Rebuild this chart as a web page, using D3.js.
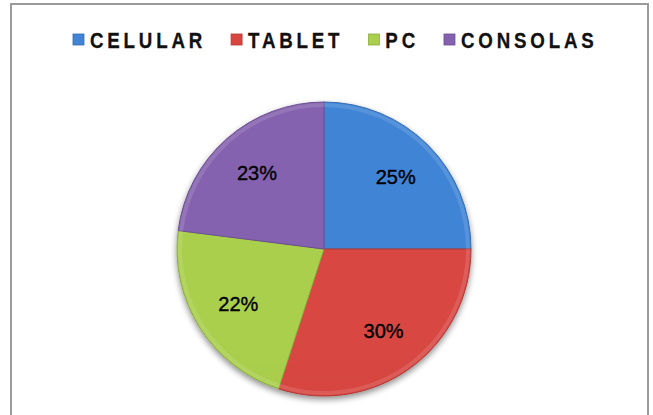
<!DOCTYPE html>
<html>
<head>
<meta charset="utf-8">
<script src="https://cdn.jsdelivr.net/npm/d3@7"></script>
<style>
  html, body { margin: 0; padding: 0; background: #fff; }
  svg { display: block; }
</style>
</head>
<body>
<svg id="chart" width="653" height="415"></svg>
<script>
// chart data
const categories = ["CELULAR", "TABLET", "PC", "CONSOLAS"];
const shares = [25, 30, 22, 23];
const baseColors = ["#3e7ecd", "#cf433f", "#a3c64a", "#7f5ea8"];
const darkColors = ["#336cb3", "#b23835", "#88ab3d", "#6a4f91"];

const width = 653, height = 415;
const cx = 324, cy = 249, radius = 147;

const svg = d3.select("#chart");
const defs = svg.append("defs");

// soft shadow under the pie
const shadow = defs.append("filter").attr("id", "shadow")
    .attr("x", "-20%").attr("y", "-20%").attr("width", "140%").attr("height", "140%");
shadow.append("feGaussianBlur").attr("in", "SourceAlpha").attr("stdDeviation", 3).attr("result", "blur");
shadow.append("feOffset").attr("in", "blur").attr("dx", 0).attr("dy", 3).attr("result", "off");
shadow.append("feComponentTransfer").attr("in", "off").attr("result", "soft")
    .append("feFuncA").attr("type", "linear").attr("slope", 0.45);
const merge = shadow.append("feMerge");
merge.append("feMergeNode").attr("in", "soft");
merge.append("feMergeNode").attr("in", "SourceGraphic");

// vertical shading per slice colour
categories.forEach((c, i) => {
    const g = defs.append("linearGradient").attr("id", "grad" + i)
        .attr("gradientUnits", "userSpaceOnUse")
        .attr("x1", 0).attr("y1", cy - radius).attr("x2", 0).attr("y2", cy + radius);
    g.append("stop").attr("offset", "0%").attr("stop-color", d3.color(baseColors[i]).brighter(0.12));
    g.append("stop").attr("offset", "55%").attr("stop-color", baseColors[i]);
    g.append("stop").attr("offset", "100%").attr("stop-color", darkColors[i]);
});

// chart area frame (bottom runs off the picture)
svg.append("rect")
    .attr("x", 11).attr("y", 4)
    .attr("width", 637).attr("height", 430)
    .attr("fill", "none")
    .attr("stroke", "#9a9a9a")
    .attr("stroke-width", 2);

// legend - narrow, spaced capitals
const squeeze = 0.85;
const legend = svg.append("g").attr("class", "legend");
let lx = 73;
categories.forEach((c, i) => {
    const item = legend.append("g").attr("transform", `translate(${lx},0)`);
    item.append("rect")
        .attr("x", 0).attr("y", 34)
        .attr("width", 11).attr("height", 11)
        .attr("fill", `url(#grad${i})`)
        .attr("stroke", darkColors[i]).attr("stroke-width", 0.8);
    const t = item.append("text")
        .attr("transform", `translate(17,48) scale(${squeeze},1)`)
        .attr("font-family", "Liberation Sans, Arial, sans-serif")
        .attr("font-weight", "bold")
        .attr("font-size", 22)
        .attr("letter-spacing", 4.5)
        .attr("fill", "#111")
        .attr("stroke", "#111")
        .attr("stroke-width", 0.3)
        .text(c);
    lx += 17 + t.node().getComputedTextLength() * squeeze + 25;
});

// pie
const pie = d3.pie().sort(null).value(d => d)
    .startAngle(0).endAngle(2 * Math.PI);
const arcs = pie(shares);
const arc = d3.arc().innerRadius(0).outerRadius(radius);
const labelArc = d3.arc().innerRadius(radius * 0.69).outerRadius(radius * 0.69);

const g = svg.append("g").attr("transform", `translate(${cx},${cy})`);
const slices = g.append("g").attr("filter", "url(#shadow)");

slices.selectAll("path.slice")
    .data(arcs)
    .join("path")
    .attr("class", "slice")
    .attr("d", arc)
    .attr("fill", (d, i) => `url(#grad${i})`)
    .attr("stroke", (d, i) => darkColors[i])
    .attr("stroke-width", 1);

// light bevel rim along the outer edge
const rim = d3.arc().innerRadius(radius - 5).outerRadius(radius - 1);
g.append("g").selectAll("path")
    .data(arcs)
    .join("path")
    .attr("d", rim)
    .attr("fill", "#fff")
    .attr("opacity", 0.12);

g.append("g").selectAll("text")
    .data(arcs)
    .join("text")
    .attr("transform", d => `translate(${labelArc.centroid(d)})`)
    .attr("text-anchor", "middle")
    .attr("dy", "0.36em")
    .attr("font-family", "Liberation Sans, Arial, sans-serif")
    .attr("font-size", 20)
    .attr("fill", "#000")
    .attr("stroke", "#000")
    .attr("stroke-width", 0.35)
    .text(d => d.data + "%");
</script>
</body>
</html>
